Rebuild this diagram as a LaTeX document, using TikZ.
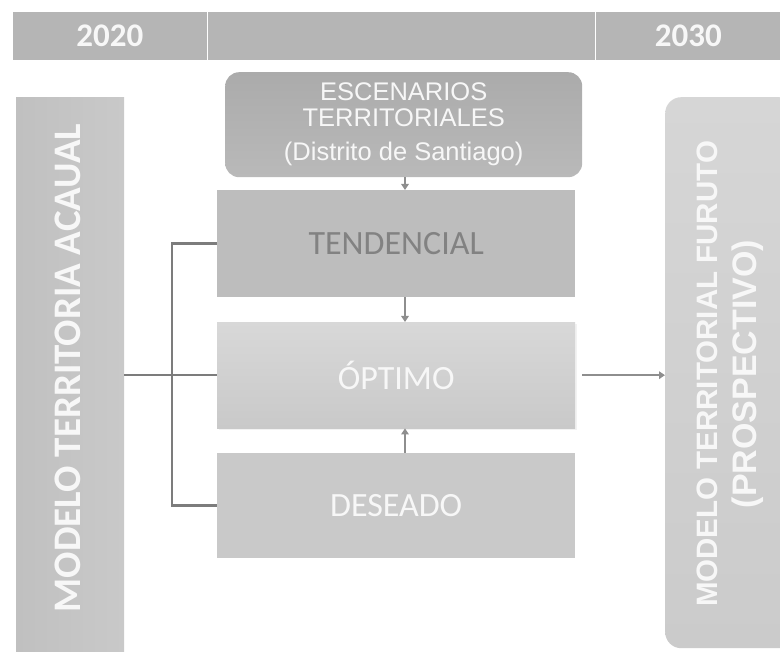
\documentclass[tikz,border=0pt]{standalone}
\usepackage{fontspec}
\setmainfont{Liberation Sans}
\newfontfamily\calib{Carlito}
\usetikzlibrary{arrows.meta,shadows}
\definecolor{hdrc}{HTML}{B5B5B5}
\definecolor{actL}{HTML}{C0C0C0}
\definecolor{actR}{HTML}{C9C9C9}
\definecolor{escT}{HTML}{ABABAB}
\definecolor{escB}{HTML}{B9B9B9}
\definecolor{tendc}{HTML}{BDBDBD}
\definecolor{tendtxt}{HTML}{828282}
\definecolor{optT}{HTML}{D8D8D8}
\definecolor{optB}{HTML}{C9C9C9}
\definecolor{desc}{HTML}{C9C9C9}
\definecolor{futT}{HTML}{D6D6D6}
\definecolor{futB}{HTML}{CBCBCB}
\definecolor{connc}{HTML}{7C7C7C}
\definecolor{arrc}{HTML}{8E8E8E}
\definecolor{wtxt}{HTML}{F7F7F7}
\begin{document}
\begin{tikzpicture}[x=1pt,y=-1pt,
  cell/.style={rectangle, fill=hdrc, draw=white, line width=0.8pt, minimum height=49pt,
    anchor=north west, inner sep=0pt, text=wtxt, font=\calib\bfseries\fontsize{33}{38}\selectfont},
  midbox/.style={rectangle, anchor=north west, minimum width=358pt, inner sep=0pt,
    font=\calib\fontsize{34}{40}\selectfont},
  conn/.style={draw=connc, line width=2.5pt},
  arr/.style={draw=arrc, line width=2pt, -{Triangle[length=6pt,width=7.5pt]}}]
\useasboundingbox (0,0) rectangle (780,652);
% header
\node[cell, minimum width=195pt] (h1) at (12,11) {2020};
\node[cell, minimum width=388pt] (h2) at (207,11) {};
\node[cell, minimum width=186pt] (h3) at (595,11) {2030};
% left box
\node[rectangle, anchor=north west, minimum width=108pt, minimum height=562pt, inner sep=0pt,
  left color=actL, right color=actR] (act) at (16,97) {};
\node[rotate=90, inner sep=0pt, text=wtxt, font=\calib\bfseries\fontsize{39}{44}\selectfont]
  (actt) at (68,368) {MODELO TERRITORIA ACAUAL};
% top box
\node[rectangle, rounded corners=14pt, anchor=north west, minimum width=357pt, minimum height=105pt,
  inner sep=0pt, top color=escT, bottom color=escB, text=wtxt, align=center,
  font=\fontsize{25.5}{26}\selectfont] (esc) at (225,72)
  {ESCENARIOS\\TERRITORIALES\\[8pt](Distrito de Santiago)};
% middle boxes
\node[midbox, minimum height=107pt, fill=tendc, text=tendtxt] (tend) at (217,190) {TENDENCIAL};
\node[midbox, minimum height=106pt, top color=optT, bottom color=optB, text=wtxt,
  drop shadow={opacity=0.1, shadow xshift=2pt, shadow yshift=-2pt}] (opt) at (217,322) {ÓPTIMO};
\node[midbox, minimum height=105pt, fill=desc, text=wtxt] (des) at (217,453) {DESEADO};
% right box
\node[rectangle, rounded corners=16pt, anchor=north west, minimum width=130pt, minimum height=551pt,
  inner sep=0pt, top color=futT, bottom color=futB] (fut) at (665,97) {};
\node[rotate=90, inner sep=0pt, text=wtxt, font=\bfseries\fontsize{29.5}{36}\selectfont]
  (futt1) at (707,374) {MODELO TERRITORIAL FURUTO};
\node[rotate=90, inner sep=0pt, text=wtxt, font=\bfseries\fontsize{34}{40}\selectfont]
  (futt2) at (748,374) {(PROSPECTIVO)};
% connectors
\coordinate (bx) at (172,0);
\coordinate (ax) at (405,0);
\draw[conn] (act.east |- opt.west) -- (opt.west);
\draw[conn, line join=miter] (tend.west) -- (tend.west -| bx) -- (des.west -| bx) -- (des.west);
% arrows
\draw[arr] (esc.south -| ax) -- (tend.north -| ax);
\draw[arr] (tend.south -| ax) -- (opt.north -| ax);
\draw[arr] (des.north -| ax) -- (opt.south -| ax);
\draw[arr, shorten <=7pt] (opt.east) -- (opt.east -| fut.west);
\end{tikzpicture}
\end{document}
